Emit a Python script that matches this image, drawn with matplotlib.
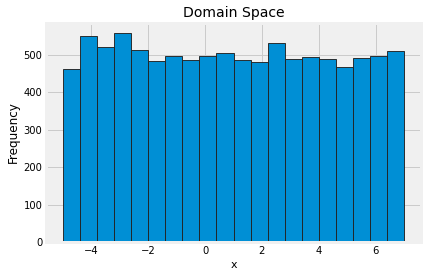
import matplotlib
matplotlib.use('Agg')
import matplotlib.pyplot as plt

# histogram of the domain space, 20 bins from -5 to 7
bin_edges = [-5.0, -4.4, -3.8, -3.2, -2.6, -2.0, -1.4, -0.8, -0.2, 0.4, 1.0,
             1.6, 2.2, 2.8, 3.4, 4.0, 4.6, 5.2, 5.8, 6.4, 7.0]
counts = [463, 549, 522, 557, 512, 483, 498, 486, 496, 504,
          486, 480, 531, 488, 493, 488, 467, 491, 498, 509]

plt.style.use('fivethirtyeight')

fig = plt.figure(figsize=(429 / 72, 279 / 72), dpi=72, facecolor='white')
ax = fig.add_axes([46 / 429, 37 / 279, 375 / 429, 219 / 279])

widths = [b - a for a, b in zip(bin_edges[:-1], bin_edges[1:])]
ax.bar(bin_edges[:-1], counts, width=widths, align='edge',
       color='#008fd5', edgecolor='#222222', linewidth=0.9)

ax.set_title('Domain Space', fontsize=14)
ax.set_xlabel('x', fontsize=11)
ax.set_ylabel('Frequency', fontsize=12)
ax.tick_params(labelsize=10)
ax.set_xticks([-4, -2, 0, 2, 4, 6])
ax.set_yticks([0, 100, 200, 300, 400, 500])

fig.savefig('out.png', dpi=72, facecolor='white')
